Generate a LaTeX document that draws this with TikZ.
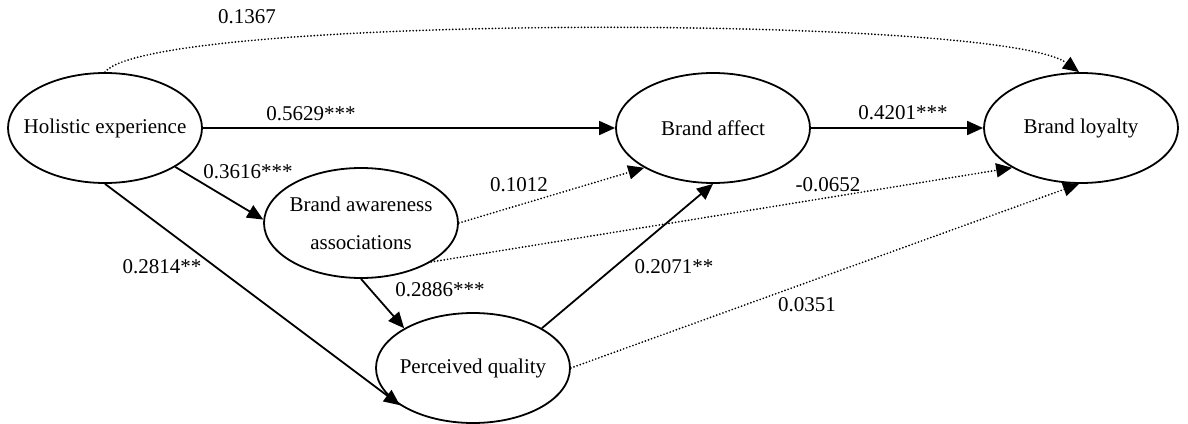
\documentclass[tikz,border=0pt]{standalone}
\usepackage{fontspec}
\setmainfont{Liberation Serif}
\usetikzlibrary{shapes.geometric,arrows.meta}

\begin{document}
\begin{tikzpicture}[x=1pt,y=-1pt,
  construct/.style={ellipse,draw,line width=1.8pt,minimum width=194pt,minimum height=110pt,
    inner sep=0pt},
  name text/.style={inner sep=0pt,align=center,font=\fontsize{21}{38}\selectfont},
  coef/.style={font=\fontsize{21}{25}\selectfont,inner sep=0pt},
  tip/.style={-{Triangle[length=16pt,width=14pt]}},
  path/.style={tip,line width=1.8pt},
  weakpath/.style={tip,line width=1.9pt,line cap=round,dash pattern=on 0pt off 3.3pt}]
\useasboundingbox (0,0) rectangle (1188,423);

% latent constructs: fixed-size ellipses, names set in their centres
\node[construct] (he) at (105,128) {};
\node[construct] (ba) at (713,128) {};
\node[construct] (bl) at (1081,128) {};
\node[construct] (baa) at (361,223) {};
\node[construct] (pq) at (473,368) {};
\node[name text] (he-t) at (he.center) {Holistic experience};
\node[name text] (ba-t) at (ba.center) {Brand affect};
\node[name text] (bl-t) at (bl.center) {Brand loyalty};
\node[name text] (baa-t) at (baa.center) {Brand awareness\\associations};
\node[name text] (pq-t) at (pq.center) {Perceived quality};

% significant paths
\draw[path] (he) -- (ba);
\draw[path] (ba) -- (bl);
\draw[path] (he.-29) -- (baa.178);
\draw[path] (he.south) -- (pq.207);
\draw[path] (baa.south) -- (pq.150);
\draw[path] (pq.30) -- (ba.south);

% non-significant paths
\draw[weakpath] (he.north) .. controls (150,14) and (1000,14) .. (bl.92);
\draw[weakpath] (baa.east) -- (ba.210);
\draw[weakpath] (baa.331) -- (bl.210);
\draw[weakpath] (pq.east) -- (bl.268);

% path coefficients
\node[coef] (c1) at (247,17) {0.1367};
\node[coef] (c2) at (311,114) {0.5629***};
\node[coef] (c3) at (248,172) {0.3616***};
\node[coef] (c4) at (519,185) {0.1012};
\node[coef] (c5) at (903,113) {0.4201***};
\node[coef] (c6) at (828,185) {-0.0652};
\node[coef] (c7) at (162,267) {0.2814**};
\node[coef] (c8) at (440,290) {0.2886***};
\node[coef] (c9) at (674,267) {0.2071**};
\node[coef] (c10) at (807,305) {0.0351};
\end{tikzpicture}
\end{document}
